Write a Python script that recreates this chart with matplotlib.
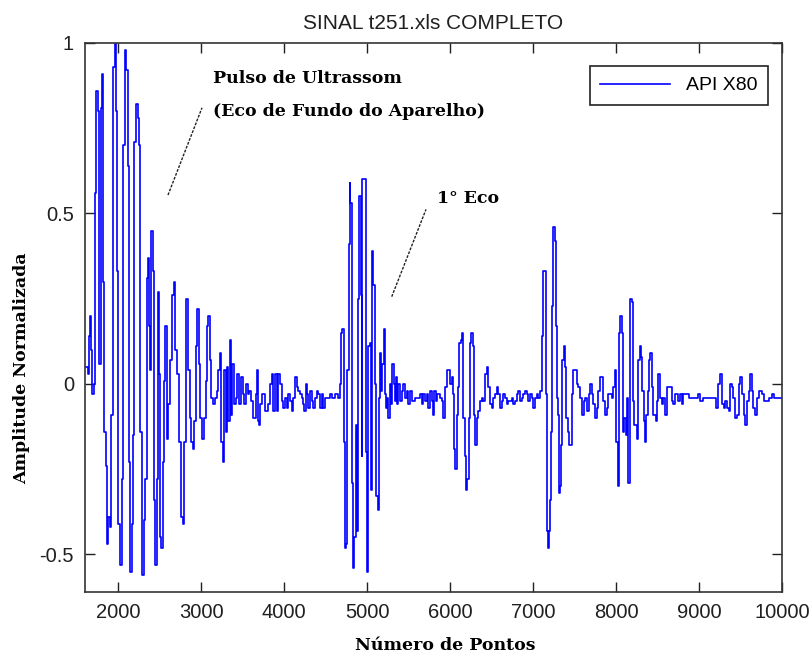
import matplotlib
matplotlib.use("Agg")
import matplotlib.pyplot as plt
import numpy as np

# signal (point number, normalised amplitude)
pontos = [1602, 1635, 1652, 1660, 1677, 1685, 1710, 1718, 1739, 1760, 1776, 1789, 1801, 1814, 1826,
          1851, 1863, 1884, 1901, 1917, 1934, 1959, 1976, 1992, 2005, 2025, 2042, 2059, 2083, 2100,
          2117, 2133, 2146, 2166, 2183, 2195, 2220, 2237, 2254, 2270, 2287, 2308, 2328, 2345, 2361,
          2378, 2390, 2403, 2420, 2432, 2449, 2465, 2478, 2494, 2507, 2523, 2540, 2552,
          2566, 2587, 2608, 2628, 2649, 2670, 2690, 2711, 2732, 2753, 2782, 2794, 2815, 2836, 2848,
          2865, 2881, 2898, 2919, 2940, 2956, 2973, 2993, 3014, 3031, 3056, 3072, 3085, 3106, 3122,
          3147, 3168, 3189, 3209, 3230, 3242, 3259, 3280, 3296, 3313, 3330, 3346, 3363, 3379, 3396,
          3417, 3437, 3458, 3479, 3500, 3520, 3541, 3562, 3583, 3604,
          3630, 3651, 3663, 3675, 3683, 3699, 3711, 3731, 3751, 3771, 3811, 3832, 3852, 3872, 3892,
          3912, 3932, 3952, 3972, 3992, 4012, 4033, 4053, 4073, 4093, 4113, 4133, 4153, 4173, 4193,
          4213, 4234, 4246, 4262, 4278, 4294, 4314, 4334, 4354, 4374, 4394, 4414, 4434, 4455, 4475,
          4495, 4535, 4555, 4575, 4615, 4648,
          4671, 4687, 4703, 4720, 4736, 4748, 4764, 4780, 4792, 4800, 4816, 4828, 4844, 4864, 4880,
          4896, 4908, 4925, 4937, 4945, 4969, 4985, 4997, 5009, 5017, 5033, 5045, 5057, 5077, 5097,
          5113, 5130, 5146, 5158, 5174, 5186, 5202, 5218, 5230, 5246, 5258, 5274, 5290, 5306, 5322,
          5339, 5351, 5367, 5379, 5399, 5419, 5439, 5459, 5479, 5499, 5520, 5540, 5580,
          5639, 5659, 5679, 5699, 5719, 5740, 5760, 5780, 5792, 5808, 5832, 5848, 5880, 5900, 5920,
          5940, 5961, 5981, 6001, 6021, 6033, 6049, 6065, 6081, 6097, 6113, 6129, 6146, 6162, 6178,
          6194, 6210, 6226, 6242, 6258, 6274, 6290, 6306, 6322, 6342, 6363, 6383, 6403, 6423, 6443,
          6463, 6483, 6503, 6523, 6544, 6564, 6584, 6604, 6624, 6644, 6664, 6684, 6704, 6724, 6745,
          6765, 6785, 6805, 6825, 6845, 6865, 6885, 6905, 6925, 6945, 6965, 6986, 7006, 7026, 7046,
          7066, 7086, 7106, 7126, 7146, 7159, 7167, 7179, 7191, 7203, 7215, 7231, 7247, 7263, 7275,
          7287, 7299, 7311, 7327, 7339, 7352, 7368, 7384, 7400, 7416, 7432, 7448, 7468, 7488, 7508,
          7528, 7548, 7568, 7589, 7609, 7629, 7649, 7669, 7689, 7709, 7729,
          7748, 7768, 7788, 7808, 7828, 7849, 7869, 7889, 7909, 7929, 7949, 7969, 7989, 8005, 8021,
          8037, 8053, 8070, 8086, 8102, 8118, 8134, 8150, 8166, 8174, 8190, 8206, 8222, 8238, 8255,
          8271, 8287, 8303, 8319, 8335, 8351, 8367, 8383, 8399, 8415, 8431, 8448, 8464, 8480, 8496,
          8512, 8532, 8552, 8572, 8592, 8612, 8632, 8652, 8672, 8693, 8713, 8733, 8753, 8773, 8793,
          8813, 8833, 8853, 8874, 8914, 8954, 8994, 9014, 9034, 9054, 9115, 9175, 9203, 9235, 9255,
          9275, 9296, 9316, 9336, 9356, 9376, 9396, 9416, 9436, 9456, 9477, 9497, 9517, 9537, 9557,
          9577, 9597, 9617, 9637, 9657, 9678, 9698, 9718, 9738, 9758, 9778, 9798, 9839, 9879, 9899,
          10000]

amplitude = [0.05, 0.03, 0.14, 0.20, 0.10, -0.03, 0.00, 0.56, 0.86, 0.80, 0.06, 0.81, 0.91, 0.30, -0.14,
             -0.24, -0.47, -0.39, -0.42, -0.09, 0.93, 1.00, 0.80, 0.33, -0.41, -0.53, -0.28, 0.70, 0.98, 0.92,
             0.64, -0.23, -0.55, -0.41, -0.15, 0.71, 0.82, 0.78, 0.70, -0.14, -0.56, -0.40, -0.28, 0.31, 0.37,
             0.17, 0.04, 0.45, 0.33, -0.34, -0.53, -0.28, 0.27, 0.03, -0.45, -0.48, -0.23, 0.01,
             0.17, -0.16, -0.06, 0.07, 0.26, 0.30, 0.10, 0.03, -0.17, -0.39, -0.41, -0.17, 0.25, 0.25, 0.04,
             -0.10, -0.17, -0.19, -0.11, 0.11, 0.22, 0.06, -0.10, -0.16, -0.10, 0.01, 0.17, 0.20, 0.07, -0.04,
             -0.06, -0.04, -0.02, 0.04, 0.09, -0.17, -0.23, 0.04, -0.14, 0.05, -0.11, 0.13, -0.09, 0.06, -0.06,
             -0.04, 0.03, -0.06, 0.02, -0.03, -0.06, 0.00, -0.03, -0.02, -0.05,
             -0.10, -0.10, -0.03, 0.04, -0.11, -0.12, -0.06, -0.03, -0.03, -0.08, -0.06, 0.00, 0.03, -0.08, 0.03,
             -0.08, 0.03, 0.00, -0.05, -0.07, -0.04, -0.07, -0.03, -0.05, -0.08, -0.04, 0.02, -0.01, -0.02, -0.03,
             -0.04, -0.06, -0.08, 0.00, -0.03, -0.07, -0.02, -0.05, -0.07, -0.04, -0.02, -0.03, -0.07, -0.03, -0.07,
             -0.04, -0.04, -0.03, -0.04, -0.03, -0.04,
             0.00, 0.15, 0.16, -0.17, -0.48, -0.47, 0.04, 0.41, 0.59, 0.53, -0.29, -0.54, -0.45, -0.12, -0.43,
             0.25, 0.55, 0.26, -0.21, 0.60, 0.60, -0.20, -0.55, -0.46, 0.11, 0.12, -0.31, 0.39, 0.29, 0.00,
             -0.33, -0.37, -0.04, 0.09, -0.02, 0.06, 0.16, -0.03, -0.07, -0.04, -0.10, 0.00, -0.06, 0.06, 0.00,
             -0.05, 0.02, -0.06, 0.00, -0.05, -0.02, 0.00, -0.04, -0.02, -0.06, -0.02, -0.05, -0.04,
             -0.03, -0.06, -0.03, -0.05, -0.03, -0.07, -0.02, -0.05, -0.09, -0.02, -0.05, -0.03, -0.04, -0.05, -0.10,
             -0.01, 0.04, 0.04, 0.00, 0.02, -0.03, -0.19, -0.25, -0.09, -0.01, 0.12, 0.13, 0.15, -0.10, -0.21,
             -0.31, -0.28, -0.10, 0.12, 0.15, 0.11, -0.09, -0.18, -0.10, -0.08, -0.05, -0.04, -0.05, 0.03, 0.05,
             -0.01, -0.06, -0.07, -0.04, -0.03, -0.01, -0.03, -0.07, -0.05, -0.03, -0.04, -0.06, -0.05, -0.05, -0.04,
             -0.06, -0.05, -0.03, -0.02, -0.05, -0.04, -0.03, -0.02, -0.03, -0.05, -0.03, -0.04, -0.07, -0.04, -0.03,
             -0.04, -0.02, 0.14, 0.33, 0.33, -0.03, -0.43, -0.48, -0.43, -0.34, -0.14, 0.23, 0.46, 0.42, 0.17,
             -0.04, -0.09, -0.32, -0.30, -0.18, 0.07, 0.11, 0.05, -0.10, -0.14, -0.18, -0.18, -0.03, 0.04, 0.04,
             0.00, -0.01, -0.04, -0.09, -0.05, -0.04, -0.08, -0.03, 0.00, -0.03, -0.06,
             -0.10, -0.07, -0.02, 0.02, 0.02, -0.05, -0.09, -0.07, -0.03, -0.03, -0.04, -0.01, 0.04, -0.17, -0.30,
             0.15, 0.20, 0.15, -0.14, -0.10, -0.15, -0.04, -0.29, -0.12, 0.25, 0.24, -0.05, -0.12, -0.12, -0.16,
             0.07, 0.11, 0.08, -0.02, -0.11, -0.17, -0.09, -0.02, 0.07, 0.09, -0.01, -0.09, -0.09, -0.11, -0.05,
             0.03, -0.04, -0.06, -0.04, -0.09, -0.01, -0.01, -0.01, -0.05, -0.06, -0.03, -0.03, -0.05, -0.03, -0.06,
             -0.03, -0.03, -0.03, -0.04, -0.04, -0.04, -0.03, -0.05, -0.05, -0.04, -0.04, -0.04, -0.07, 0.00, 0.03,
             -0.06, -0.07, -0.05, -0.07, -0.08, 0.00, -0.01, -0.04, -0.10, -0.09, 0.00, 0.02, -0.03, -0.09, -0.12,
             -0.05, -0.02, 0.03, -0.02, -0.07, -0.09, -0.04, -0.02, -0.02, -0.03, -0.05, -0.05, -0.04, -0.03, -0.04,
             -0.04]

x_ticks = [2000, 3000, 4000, 5000, 6000, 7000, 8000, 9000, 10000]
y_ticks = [-0.5, 0, 0.5, 1]
y_tick_labels = ['-0.5', '0', '0.5', '1']

sans = 'Liberation Sans'
serif = 'DejaVu Serif'

fig = plt.figure(figsize=(8.11, 6.56), dpi=100)
ax = fig.add_axes([0.1048, 0.0976, 0.8594, 0.8369])

ax.plot(pontos, amplitude, drawstyle='steps-post', color='#0000ff', lw=1.2, label='API X80')

ax.set_xlim(1602, 10000)
ax.set_ylim(-0.61, 1.0)
ax.set_xticks(x_ticks)
ax.set_xticklabels([str(t) for t in x_ticks], fontsize=14.5, family=sans, color='#202020')
ax.set_yticks(y_ticks)
ax.set_yticklabels(y_tick_labels, fontsize=14.5, family=sans, color='#202020')
ax.tick_params(direction='in', length=7, width=1, top=True, right=True, pad=8, colors='#202020')
for s in ax.spines.values():
    s.set_linewidth(1.2)
    s.set_color('#333333')

ax.set_title('SINAL t251.xls COMPLETO', fontsize=15, family=sans, color='#202020', pad=10)

# axis labels placed like the original (y label sits low)
fig.text(445 / 811, 1 - 645 / 656, 'Número de Pontos', fontsize=12.5, family=serif,
         fontweight='bold', ha='center', va='center')
fig.text(22 / 811, 1 - 368 / 656, 'Amplitude Normalizada', fontsize=12.5, family=serif,
         fontweight='bold', ha='center', va='center', rotation=90)

# annotations
ax.text(3145, 0.895, 'Pulso de Ultrassom', fontsize=12.5, family=serif, fontweight='bold', va='center')
ax.text(3145, 0.80, '(Eco de Fundo do Aparelho)', fontsize=12.5, family=serif, fontweight='bold', va='center')
ax.plot([2602, 3012], [0.554, 0.81], ls=(0, (2, 1)), color='#222222', lw=1)
ax.text(5844, 0.545, '1° Eco', fontsize=12.5, family=serif, fontweight='bold', va='center')
ax.plot([5298, 5711], [0.256, 0.512], ls=(0, (2, 1)), color='#222222', lw=1)

leg = ax.legend(loc='upper right', fancybox=False, framealpha=1, edgecolor='#222222',
                prop={'family': sans, 'size': 14}, handlelength=3.6, borderpad=0.55,
                borderaxespad=0, bbox_to_anchor=(0.980, 0.958))
leg.get_frame().set_linewidth(1.2)

fig.savefig('out.png', dpi=100)
